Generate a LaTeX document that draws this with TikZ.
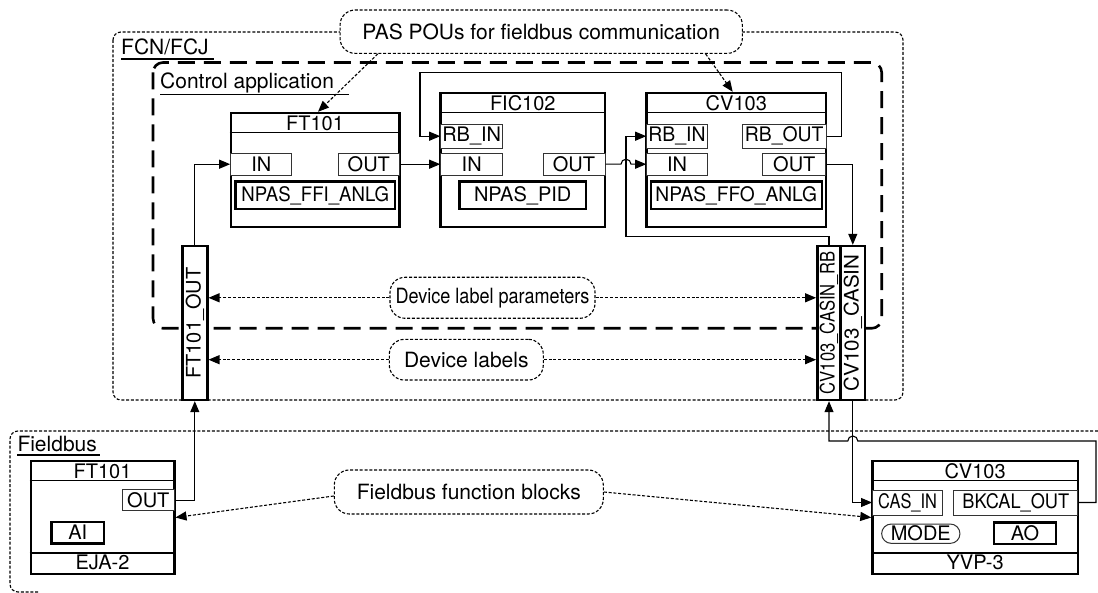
\documentclass[tikz,border=0pt]{standalone}
\usepackage{fontspec}
\setmainfont{TeX Gyre Heros}
\usepackage{graphicx}
\usetikzlibrary{arrows.meta,positioning}
\newcommand{\lblfont}{\fontsize{21}{24}\selectfont}
\newcommand{\blkfont}{\fontsize{20}{22}\selectfont}
\newcommand{\squeeze}[2]{\scalebox{#1}[1]{#2}}
\tikzstyle{fblock} = [draw, line width=2.4pt, fill=white, inner sep=0pt]
\tikzstyle{fbtitle} = [inner sep=0pt, font=\blkfont]
\tikzstyle{port} = [draw=black!80, line width=1pt, fill=white, inner sep=0pt, font=\blkfont]
\tikzstyle{algo} = [draw, line width=2.4pt, fill=white, inner sep=0pt, font=\blkfont]
\tikzstyle{tagbox} = [draw, line width=2.4pt, fill=white, inner sep=0pt, font=\blkfont]
\tikzstyle{bubble} = [draw, line width=1.1pt, dash pattern=on 3pt off 1.8pt, rounded corners=15pt, fill=white, inner sep=0pt, font=\lblfont]
\tikzstyle{area} = [line width=1.1pt, dash pattern=on 3pt off 1.8pt, rounded corners=8pt]
\tikzstyle{apparea} = [line width=2.6pt, dash pattern=on 17pt off 9pt, rounded corners=10pt]
\tikzstyle{arealabel} = [inner sep=0pt, anchor=base west, font=\lblfont]
\tikzstyle{divider} = [line width=1.2pt]
\tikzstyle{link} = [line width=1.1pt, -{Triangle[length=11pt,width=9pt]}]
\tikzstyle{hint} = [line width=1.1pt, dash pattern=on 3pt off 1.8pt, -{Triangle[length=11pt,width=9pt]}]

\begin{document}
\begin{tikzpicture}[x=1pt,y=-1pt]
\useasboundingbox (0,0) rectangle (1098,593);

% areas
\draw[area] (113,32) rectangle (903,400);
\draw[apparea] (153,62.5) rectangle (881.7,328.3);
\draw[area] (1098,431) -- (10,431) -- (10,592) -- (40,592);
\node[arealabel] (fcnlbl) at (121,55) {FCN/FCJ};
\draw[line width=1.5pt] ([yshift=-4pt]fcnlbl.base west) -- ([xshift=5pt,yshift=-4pt]fcnlbl.base east);
\node[arealabel] (applbl) at (160,88.3) {Control application};
\draw[line width=1.5pt] ([yshift=-6pt]applbl.base west) -- ([xshift=15pt,yshift=-6pt]applbl.base east);
\node[arealabel] (fblbl) at (17.3,451.7) {Fieldbus};
\draw[line width=1.5pt] ([yshift=-3.5pt]fblbl.base west) -- ([xshift=3pt,yshift=-3.5pt]fblbl.base east);

% PAS POUs
\node[fblock, minimum width=168.6pt, minimum height=114pt] (ft) at (315,170) {};
\node[fbtitle] (ftt) at (315,123.5) {FT101};
\draw[divider] ([yshift=-21pt]ft.north west) -- ([yshift=-21pt]ft.north east);
\node[port, minimum width=61.3pt, minimum height=21.7pt] (ftin) at (261.3,164.2) {IN};
\node[port, minimum width=61pt, minimum height=21.7pt] (ftout) at (368.8,164.2) {OUT};
\node[algo, minimum width=159.3pt, minimum height=27.6pt] (ftalg) at (315.3,195.5) {\squeeze{0.93}{NPAS\_FFI\_ANLG}};

\node[fblock, minimum width=164.3pt, minimum height=134pt] (fic) at (522.8,160) {};
\node[fbtitle] (fict) at (522.8,103.5) {FIC102};
\draw[divider] ([yshift=-21pt]fic.north west) -- ([yshift=-21pt]fic.north east);
\node[port, minimum width=62pt, minimum height=24.3pt] (ficrb) at (471.7,136.2) {RB\_IN};
\node[port, minimum width=62pt, minimum height=21.7pt] (ficin) at (471.7,164.2) {IN};
\node[port, minimum width=62pt, minimum height=21.7pt] (ficout) at (574,164.2) {OUT};
\node[algo, minimum width=126.7pt, minimum height=27.6pt] (ficalg) at (522.7,195.5) {NPAS\_PID};

\node[fblock, minimum width=179.3pt, minimum height=134pt] (cv) at (736.3,160) {};
\node[fbtitle] (cvt) at (736.3,103.5) {CV103};
\draw[divider] ([yshift=-21pt]cv.north west) -- ([yshift=-21pt]cv.north east);
\node[port, minimum width=60.6pt, minimum height=24.3pt] (cvrbin) at (677,136.2) {\squeeze{0.97}{RB\_IN}};
\node[port, minimum width=83.7pt, minimum height=24.3pt] (cvrbout) at (784.2,136.2) {\squeeze{0.97}{RB\_OUT}};
\node[port, minimum width=60.6pt, minimum height=21.7pt] (cvin) at (677,164.2) {IN};
\node[port, minimum width=63.3pt, minimum height=21.7pt] (cvout) at (794.3,164.2) {OUT};
\node[algo, minimum width=171pt, minimum height=27.6pt] (cvalg) at (736.2,195.5) {\squeeze{0.96}{NPAS\_FFO\_ANLG}};

% device label tags
\node[tagbox, minimum width=25pt, minimum height=154pt] (ftlbl) at (194.8,323) {\rotatebox{90}{FT101\_OUT}};
\node[tagbox, minimum width=23.4pt, minimum height=154pt] (cvrb) at (829,323) {\rotatebox{90}{\squeeze{0.83}{CV103\_CASIN\_RB}}};
\node[tagbox, minimum width=24.3pt, minimum height=154pt] (cvcas) at (852.8,323) {\rotatebox{90}{\squeeze{1.03}{CV103\_CASIN}}};

% fieldbus function blocks
\node[fblock, minimum width=143.6pt, minimum height=113pt] (eja) at (102.5,517.5) {};
\node[fbtitle] (ejat) at (102.5,471.3) {FT101};
\node[fbtitle] (ejab) at (102.5,562.8) {EJA-2};
\draw[divider] ([yshift=-20.7pt]eja.north west) -- ([yshift=-20.7pt]eja.north east);
\draw[divider] ([yshift=22.3pt]eja.south west) -- ([yshift=22.3pt]eja.south east);
\node[port, minimum width=52pt, minimum height=20.7pt] (ejaout) at (148.3,500.3) {OUT};
\node[algo, minimum width=52.3pt, minimum height=21.8pt] (ejaai) at (77.8,532.6) {AI};

\node[fblock, minimum width=205.2pt, minimum height=113pt] (yvp) at (975.1,517.5) {};
\node[fbtitle] (yvpt) at (975.1,471.3) {CV103};
\node[fbtitle] (yvpb) at (975.1,562.8) {YVP-3};
\draw[divider] ([yshift=-20.7pt]yvp.north west) -- ([yshift=-20.7pt]yvp.north east);
\draw[divider] ([yshift=22.3pt]yvp.south west) -- ([yshift=22.3pt]yvp.south east);
\node[port, minimum width=70.2pt, minimum height=25pt] (yvpcas) at (907.6,502.5) {\squeeze{0.82}{CAS\_IN}};
\node[port, minimum width=123.7pt, minimum height=25pt] (yvpbk) at (1015.8,502.5) {\squeeze{0.91}{BKCAL\_OUT}};
\node[port, rounded corners=9.6pt, minimum width=78.3pt, minimum height=19.3pt] (yvpmode) at (920.8,533.7) {MODE};
\node[algo, minimum width=62pt, minimum height=21.3pt] (yvpao) at (1025,533.3) {AO};

% callouts
\node[bubble, minimum width=402.3pt, minimum height=43.3pt] (pas) at (541.2,31.7) {PAS POUs for fieldbus communication};
\node[bubble, minimum width=205pt, minimum height=41pt] (dlp) at (492.5,297.8) {\squeeze{0.86}{Device label parameters}};
\node[bubble, minimum width=154pt, minimum height=40.7pt] (dl) at (466.3,359.7) {Device labels};
\node[bubble, minimum width=269pt, minimum height=44pt] (fbf) at (468.8,492) {Fieldbus function blocks};

% data links
\draw[link] (ftlbl.north) |- (ftin.west);
\draw[link] (ftout.east) -- (ficin.west);
\draw[link] (ficout.east) -- (621,164.2) arc[start angle=180, end angle=0, radius=5pt] -- (cvin.west);
\draw[link] (cvrbout.east) -| (841.7,72.3) -| (420,136.2) -- (ficrb.west);
\draw[link] (cvrb.north) |- (626,236.7) |- (cvrbin.west);
\draw[link] (cvout.east) -| (cvcas.north);
\draw[link] (ejaout.east) -| (ftlbl.south);
\draw[link] (cvcas.south) |- (yvpcas.west);
\draw[link] (yvpbk.east) -| (1096,441) -- (857.8,441) arc[start angle=0, end angle=180, radius=5pt] -| (cvrb.south);

% callout pointers
\draw[hint] ([xshift=38.3pt]pas.south west) -- ([xshift=3pt]ft.north);
\draw[hint] ([xshift=-37.3pt]pas.south east) -- ([xshift=-3.6pt]cv.north);
\draw[hint] (dlp.west) -- (dlp.west -| ftlbl.east);
\draw[hint] (dlp.east) -- (dlp.east -| cvrb.west);
\draw[hint] (dl.west) -- (dl.west -| ftlbl.east);
\draw[hint] (dl.east) -- (dl.east -| cvrb.west);
\draw[hint] ([yshift=-4pt]fbf.west) -- (eja.east);
\draw[hint] (fbf.east) -- (yvp.west);
\end{tikzpicture}
\end{document}
